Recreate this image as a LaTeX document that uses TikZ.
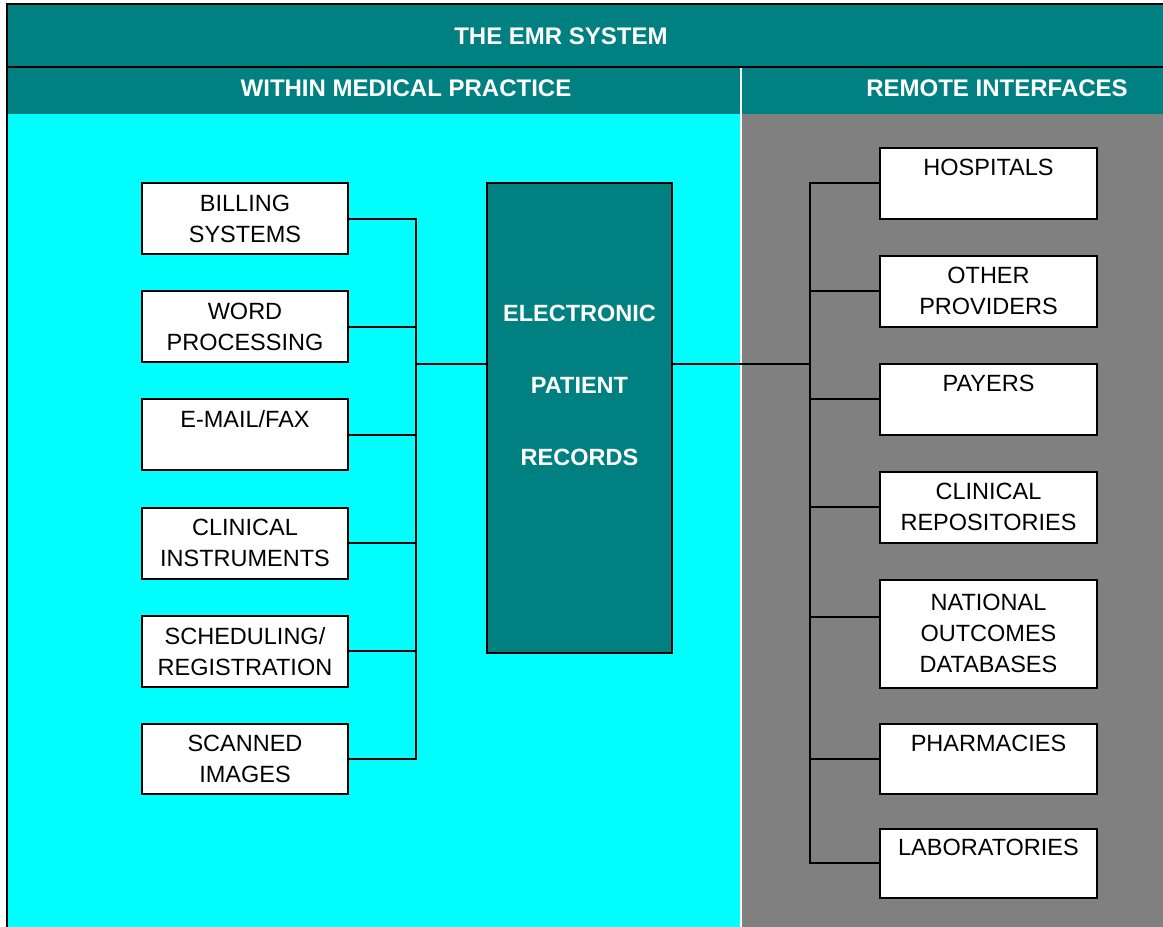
\documentclass[tikz,border=0pt]{standalone}
\usepackage{fontspec}
\setmainfont{Liberation Sans}
\usepackage{xcolor}
\usepackage{tikz}
\usetikzlibrary{calc,positioning,backgrounds}
\definecolor{emrteal}{RGB}{0,128,128}
\definecolor{emrcyan}{RGB}{0,255,255}
\definecolor{emrgray}{RGB}{128,128,128}
\tikzset{
  node distance=37pt,
  box/.style={draw=black,line width=2pt,fill=white,align=center,
    minimum width=206pt,minimum height=71pt,inner sep=3pt,outer sep=0pt,
    font=\fontsize{23.5}{31}\selectfont},
  rbox/.style={box,minimum width=217pt},
  head/.style={text=white,font=\fontsize{24}{31}\selectfont\bfseries},
  epr/.style={draw=black,line width=2pt,fill=emrteal,text=white,align=center,
    minimum width=185pt,minimum height=470pt,outer sep=0pt,
    font=\fontsize{23.5}{31}\selectfont\bfseries}
}

\begin{document}
\begin{tikzpicture}[x=1pt,y=-1pt]
          \useasboundingbox (0,0) rectangle (1163,927);
          \begin{scope}
              \fill[emrteal] (7,4) rectangle (1163,114);
              \fill[emrcyan] (7,114) rectangle (741,927);
              \fill[emrgray] (741,114) rectangle (1163,927);
              \draw[white,line width=2pt] (741,68) -- (741,927);
              \draw[line width=2.5pt] (1163,4) -- (7,4) -- (7,927);
              \draw[line width=2pt] (7,67) -- (1163,67);
          \end{scope}

          \node[head] (title)  at (561,36) {THE EMR SYSTEM};
          \node[head] (inside) at (406,88) {WITHIN MEDICAL PRACTICE};
          \node[head] (remote) at (997,88) {REMOTE INTERFACES};

          \begin{scope}[node distance=37.2pt]
              \node[box] (billing) at (245,218.5) {BILLING\\SYSTEMS};
              \node[box] (word)  [below=of billing] {WORD\\PROCESSING};
              \node[box] (email) [below=of word ] {E-MAIL/FAX\\~};
              \node[box] (instr) [below=of email] {CLINICAL\\INSTRUMENTS};
              \node[box] (sched) [below=of instr] {SCHEDULING/\\REGISTRATION};
              \node[box,minimum height=70pt] (scan)  [below=of sched] {SCANNED\\IMAGES};
          \end{scope}

          \node[epr] (epr) at (579.5,418)
                {ELECTRONIC\\[41pt]PATIENT\\[41pt]RECORDS\\[35pt]~};

          \node[rbox] (hosp) at (988.5,183) {HOSPITALS\\~};
          \node[rbox] (prov)  [below=of hosp ] {OTHER\\PROVIDERS};
          \node[rbox] (payer) [below=of prov ] {PAYERS\\~};
          \node[rbox] (repo)  [below=of payer] {CLINICAL\\REPOSITORIES};
          \node[rbox,minimum height=108pt] (natl) [below=of repo]
                {NATIONAL\\OUTCOMES\\DATABASES};
          \node[rbox,minimum height=70pt] (pharm) [below=36pt of natl ] {PHARMACIES\\~};
          \node[rbox,minimum height=69pt] (lab) [below=35pt of pharm] {LABORATORIES\\~};

          \coordinate (lbus) at (416,0);
          \coordinate (rbus) at (810,0);
          \coordinate (hub) at ($(epr.north)+(0,181)$);
          \coordinate (natlin) at ($(natl.west)+(0,-17)$);

          \begin{scope}[every edge/.style={draw=black,line width=2pt,line cap=rect}]
              \path (billing.east) edge (billing.east -| lbus);
              \path (word.east) edge (word.east -| lbus);
              \path (email.east) edge (email.east -| lbus);
              \path (instr.east) edge (instr.east -| lbus);
              \path (sched.east) edge (sched.east -| lbus);
              \path (scan.east) edge (scan.east -| lbus);
              \path (lbus |- billing.east) edge (lbus |- scan.east);
              \path (lbus |- hub) edge (epr.west |- hub);

              \path (epr.east |- hub) edge (rbus |- hub);
              \path (rbus |- hosp.west) edge (rbus |- lab.west);
              \path (rbus |- hosp.west) edge (hosp.west);
              \path (rbus |- prov.west) edge (prov.west);
              \path (rbus |- payer.west) edge (payer.west);
              \path (rbus |- repo.west) edge (repo.west);
              \path (rbus |- natlin) edge (natlin);
              \path (rbus |- pharm.west) edge (pharm.west);
              \path (rbus |- lab.west) edge (lab.west);
          \end{scope}
\end{tikzpicture}
\end{document}
